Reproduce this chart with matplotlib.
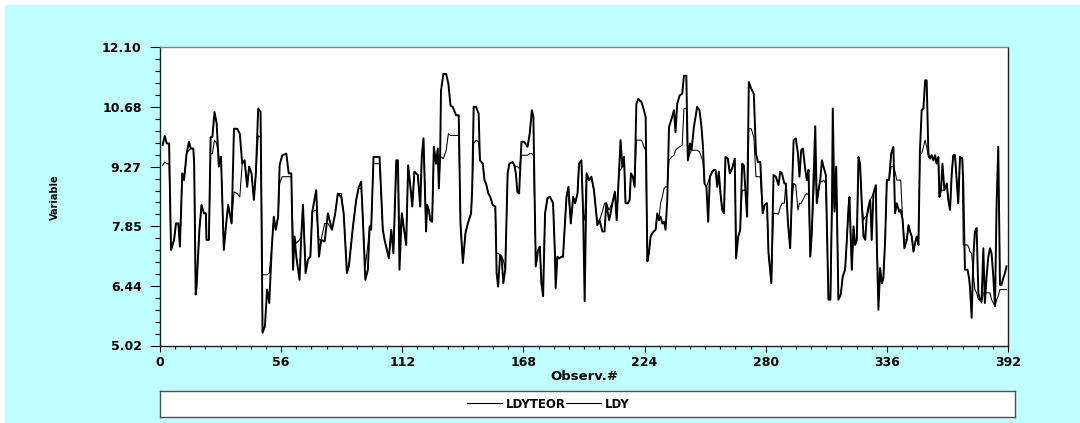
import matplotlib
matplotlib.use('Agg')
import matplotlib.pyplot as plt
import numpy as np
from matplotlib.lines import Line2D
from matplotlib.patches import Rectangle
from matplotlib.ticker import FixedLocator, MultipleLocator, AutoMinorLocator, FormatStrFormatter

obs = [
    1.2, 2.2, 3.1, 4.2, 5.1, 6.5, 7.4, 8.5, 9.2, 10.3,
    11.1, 12.3, 13.4, 14.2, 15.4, 15.8, 16.5, 16.9, 18.2, 19.2,
    20.3, 21.2, 21.5, 22.6, 23.4, 24.2, 25.2, 26.2, 27.2, 28.2,
    28.8, 29.5, 30.6, 31.5, 33.1, 34.2, 35.7, 36.9, 38.0, 39.1,
    40.3, 41.2, 42.3, 43.4, 44.3, 45.4, 46.5, 47.4, 48.5, 49.5,
    50.5, 51.7, 52.6, 53.5, 54.6, 55.3, 56.5, 58.4, 59.5, 60.7,
    61.5, 62.2, 63.0, 64.5, 65.3, 66.1, 67.3, 68.4, 69.5, 70.4,
    72.2, 73.5, 74.5, 76.1, 77.6, 79.5, 81.0, 82.2, 83.8, 84.9,
    86.4, 87.3, 89.2, 90.7, 91.9, 93.0, 93.8, 94.9, 96.1, 96.9,
    97.6, 98.7, 101.5, 103.0, 103.8, 105.8, 106.9, 107.9, 109.2, 110.0,
    110.7, 111.8, 112.6, 113.8, 114.7, 115.6, 116.6, 117.6, 119.2, 120.3,
    121.0, 121.8, 123.0, 123.5, 124.3, 124.9, 125.8, 126.6, 127.6, 128.4,
    128.9, 129.5, 129.9, 131.0, 132.3, 133.3, 134.3, 135.3, 136.9, 138.1,
    138.9, 140.0, 141.2, 142.3, 143.8, 144.3, 145.0, 146.1, 147.3, 147.9,
    149.2, 150.0, 150.7, 151.8, 152.7, 153.8, 155.0, 155.6, 156.3, 157.2,
    157.9, 158.7, 159.6, 160.7, 161.5, 163.0, 163.8, 164.5, 165.2, 166.0,
    167.1, 168.3, 169.9, 170.9, 171.9, 172.6, 173.7, 174.8, 175.6, 176.3,
    177.1, 178.0, 179.1, 180.3, 181.7, 182.5, 182.9, 183.7, 184.5, 185.6,
    186.3, 187.1, 187.9, 188.8, 189.9, 191.0, 191.9, 193.0, 193.7, 194.8,
    195.6, 196.3, 197.2, 198.3, 199.4, 200.6, 202.2, 203.2, 204.5, 205.5,
    206.3, 207.6, 208.3, 209.1, 210.3, 211.1, 212.2, 212.9, 213.7, 214.5,
    215.2, 216.3, 217.1, 217.7, 218.6, 219.4, 220.2, 221.1, 222.6, 223.7,
    224.5, 225.3, 226.0, 226.8, 227.6, 228.3, 229.1, 229.9, 230.6, 231.4,
    232.2, 233.0, 233.7, 234.5, 235.3, 236.5, 237.6, 238.3, 239.1, 240.2,
    241.4, 242.2, 243.3, 244.0, 245.0, 245.7, 246.8, 248.3, 249.4, 250.3,
    251.0, 251.7, 252.6, 253.4, 254.2, 255.3, 256.0, 256.8, 257.6, 258.3,
    259.1, 259.9, 260.7, 261.4, 262.5, 263.4, 264.5, 265.7, 266.3, 267.3,
    268.2, 269.1, 269.9, 270.6, 271.4, 272.2, 273.3, 274.5, 275.5, 276.4,
    277.5, 278.6, 279.5, 280.6, 281.3, 282.6, 283.6, 284.7, 285.9, 286.7,
    287.5, 288.6, 289.3, 290.3, 291.3, 292.1, 292.9, 293.9, 294.9, 295.6,
    296.4, 297.2, 298.3, 299.0, 299.8, 300.6, 301.3, 302.9, 303.6, 304.4,
    305.2, 306.0, 306.7, 307.8, 309.0, 309.9, 310.6, 311.0, 311.8, 312.6,
    313.6, 314.7, 315.6, 316.7, 317.5, 318.3, 318.7, 319.8, 320.6, 321.3,
    322.1, 322.9, 323.6, 324.4, 325.2, 326.0, 326.7, 327.5, 328.3, 329.0,
    329.8, 330.9, 331.3, 332.1, 332.9, 333.7, 334.4, 335.2, 336.0, 337.0,
    338.0, 339.0, 339.8, 340.6, 341.7, 342.4, 343.3, 344.1, 345.2, 346.0,
    346.7, 347.5, 348.3, 349.0, 349.8, 350.6, 351.3, 352.1, 352.9, 353.7,
    354.4, 355.2, 356.0, 356.7, 357.5, 358.3, 359.0, 359.8, 360.3, 361.0,
    361.7, 362.6, 363.7, 364.4, 365.2, 366.0, 366.7, 367.5, 368.3, 369.0,
    369.8, 370.9, 371.3, 372.1, 373.3, 374.0, 374.4, 375.2, 376.0, 376.7,
    377.5, 378.3, 379.0, 379.8, 380.6, 381.3, 382.1, 382.9, 383.7, 384.4,
    385.2, 386.0, 386.7, 387.5, 388.3, 389.0, 389.8, 390.6, 391.3,
]

ldy = [
    9.78, 10.00, 9.82, 9.82, 7.29, 7.53, 7.92, 7.92, 7.37, 9.11,
    8.95, 9.58, 9.86, 9.70, 9.70, 9.34, 6.23, 6.42, 7.77, 8.36,
    8.16, 8.16, 7.53, 7.53, 9.97, 9.97, 10.57, 10.29, 9.27, 9.50,
    8.48, 7.29, 7.92, 8.36, 7.92, 10.17, 10.17, 10.05, 9.34, 9.42,
    8.79, 9.27, 9.11, 8.48, 9.11, 10.65, 10.57, 5.32, 5.48, 6.35,
    6.03, 7.37, 8.08, 7.77, 8.08, 9.30, 9.54, 9.58, 9.11, 9.11,
    6.82, 7.61, 7.13, 6.58, 7.61, 8.36, 6.74, 7.06, 7.13, 8.20,
    8.71, 7.13, 7.53, 7.49, 8.16, 7.77, 8.16, 8.63, 8.55, 8.16,
    6.74, 6.90, 7.85, 8.48, 8.79, 8.91, 8.00, 6.58, 6.82, 7.85,
    7.77, 9.50, 9.50, 7.77, 7.53, 7.09, 7.77, 7.21, 9.42, 9.42,
    6.82, 8.16, 7.85, 7.41, 9.30, 8.87, 8.32, 9.15, 9.07, 8.32,
    9.50, 9.94, 7.73, 8.36, 8.24, 8.00, 7.96, 9.74, 9.34, 9.70,
    8.75, 9.54, 11.08, 11.47, 11.47, 11.24, 10.72, 10.69, 10.49, 10.49,
    7.92, 6.98, 7.69, 7.92, 8.16, 8.71, 10.69, 10.69, 10.53, 9.42,
    9.34, 8.95, 8.87, 8.63, 8.55, 8.36, 8.32, 6.74, 6.42, 7.17,
    7.13, 6.50, 6.82, 9.11, 9.34, 9.38, 9.30, 9.11, 8.67, 8.63,
    9.86, 9.86, 9.74, 10.05, 10.61, 10.45, 6.90, 7.29, 7.37, 6.50,
    6.19, 8.16, 8.52, 8.55, 8.40, 7.29, 6.38, 7.13, 7.09, 7.13,
    7.13, 7.85, 8.55, 8.79, 7.92, 8.55, 8.40, 8.63, 9.34, 9.42,
    8.16, 6.07, 9.11, 8.95, 9.03, 8.71, 7.88, 8.00, 7.73, 7.73,
    8.40, 8.00, 8.16, 8.40, 8.67, 8.00, 9.19, 9.90, 9.27, 9.50,
    8.40, 8.40, 8.48, 9.11, 9.03, 8.79, 10.76, 10.88, 10.80, 10.61,
    10.45, 7.02, 7.21, 7.61, 7.69, 7.73, 7.77, 8.16, 8.00, 8.08,
    7.92, 7.96, 7.77, 8.48, 10.21, 10.41, 10.61, 10.09, 10.76, 10.96,
    11.00, 11.43, 11.43, 9.42, 9.82, 9.66, 10.21, 10.69, 10.61, 10.21,
    9.74, 8.87, 8.79, 7.96, 9.03, 9.15, 9.19, 9.19, 8.79, 9.15,
    8.63, 8.24, 8.16, 9.50, 9.46, 9.11, 9.23, 9.46, 7.09, 7.61,
    7.77, 9.34, 9.30, 8.71, 8.08, 11.28, 11.12, 11.00, 9.58, 9.38,
    9.38, 8.16, 8.36, 8.40, 7.21, 6.50, 9.07, 9.03, 8.83, 9.15,
    9.11, 8.87, 8.87, 7.92, 7.33, 8.63, 9.90, 9.94, 9.58, 9.03,
    9.66, 9.70, 9.19, 8.95, 9.19, 7.13, 7.69, 10.23, 8.40, 8.71,
    8.95, 9.42, 9.27, 9.07, 6.11, 6.11, 8.32, 10.65, 8.20, 9.27,
    6.11, 6.23, 6.66, 6.82, 7.53, 8.32, 8.55, 6.82, 7.85, 7.41,
    7.53, 9.50, 9.34, 8.40, 7.61, 7.53, 8.08, 8.32, 8.48, 7.53,
    8.63, 8.83, 7.53, 5.87, 6.86, 6.50, 6.62, 7.53, 8.95, 8.95,
    9.58, 9.74, 8.16, 8.40, 8.20, 8.24, 8.00, 7.33, 7.53, 7.88,
    7.73, 7.61, 7.25, 7.45, 7.61, 7.41, 9.66, 10.61, 10.65, 11.32,
    11.32, 9.58, 9.46, 9.54, 9.42, 9.54, 9.34, 9.50, 8.55, 8.71,
    9.34, 8.71, 8.87, 8.48, 8.24, 9.11, 9.54, 9.54, 8.95, 8.40,
    9.50, 9.46, 8.87, 6.82, 6.82, 6.62, 6.42, 5.68, 7.13, 7.73,
    7.81, 6.27, 6.11, 6.11, 7.33, 6.03, 6.66, 7.13, 7.33, 7.21,
    6.66, 5.95, 8.32, 9.74, 6.46, 6.46, 6.62, 6.74, 6.90,
]

ldyteor = [
    9.30, 9.38, 9.34, 9.34, 7.29, 7.53, 7.92, 7.92, 7.37, 9.11,
    8.95, 9.58, 9.66, 9.70, 9.70, 9.34, 6.42, 6.42, 7.77, 8.36,
    8.16, 8.16, 7.53, 7.53, 9.58, 9.58, 9.90, 9.82, 9.50, 9.50,
    8.48, 7.29, 7.92, 8.36, 7.92, 8.67, 8.63, 8.55, 9.34, 9.42,
    8.79, 9.27, 9.11, 8.48, 9.11, 10.00, 9.97, 6.70, 6.70, 6.70,
    6.74, 7.37, 8.08, 7.77, 8.08, 8.87, 9.03, 9.03, 9.03, 9.03,
    7.61, 7.61, 7.45, 7.53, 7.61, 8.36, 6.90, 7.06, 7.13, 8.20,
    8.24, 7.53, 7.53, 7.92, 7.92, 7.77, 8.16, 8.63, 8.63, 8.16,
    6.86, 6.90, 7.85, 8.48, 8.75, 8.75, 8.00, 6.90, 7.41, 7.85,
    7.77, 9.34, 9.34, 7.77, 7.53, 7.13, 7.77, 7.21, 9.11, 9.27,
    7.61, 8.16, 7.85, 7.45, 9.30, 8.87, 8.32, 9.15, 9.07, 8.32,
    9.50, 9.94, 7.73, 8.36, 8.24, 8.00, 7.96, 9.74, 9.34, 9.70,
    8.75, 9.54, 9.50, 9.46, 9.66, 10.05, 10.01, 10.01, 10.01, 10.01,
    7.92, 6.98, 7.69, 7.92, 8.16, 8.71, 9.82, 9.90, 9.86, 9.42,
    9.34, 8.95, 8.87, 8.63, 8.55, 8.36, 8.32, 7.21, 7.21, 7.17,
    7.13, 7.05, 6.82, 9.11, 9.34, 9.38, 9.30, 9.27, 9.27, 9.23,
    9.54, 9.54, 9.54, 9.58, 9.58, 9.54, 7.20, 7.29, 7.37, 6.50,
    6.50, 8.16, 8.52, 8.55, 8.40, 7.29, 6.70, 7.13, 7.09, 7.13,
    7.13, 7.85, 8.55, 8.60, 7.92, 8.55, 8.40, 8.63, 9.34, 9.42,
    8.16, 8.00, 9.11, 8.95, 9.03, 8.71, 7.88, 8.00, 8.20, 8.40,
    8.40, 8.24, 8.32, 8.40, 8.67, 8.00, 9.19, 9.19, 9.27, 9.50,
    8.40, 8.40, 8.48, 9.11, 9.03, 8.79, 9.90, 9.90, 9.90, 9.74,
    9.66, 7.02, 7.21, 7.61, 7.69, 7.73, 7.77, 8.16, 8.00, 8.40,
    8.55, 8.75, 8.79, 8.79, 9.42, 9.50, 9.54, 9.66, 9.70, 9.74,
    9.78, 10.65, 10.65, 9.42, 9.58, 9.66, 9.66, 9.66, 9.62, 9.50,
    9.40, 8.87, 8.79, 8.90, 9.03, 9.15, 9.19, 9.19, 8.79, 9.15,
    8.63, 8.24, 8.16, 9.50, 9.46, 9.11, 9.23, 9.46, 7.41, 7.61,
    7.77, 8.71, 8.71, 8.71, 8.08, 10.17, 10.17, 9.97, 9.03, 9.03,
    9.03, 8.16, 8.36, 8.40, 7.21, 6.50, 8.16, 8.16, 8.14, 8.30,
    8.40, 8.40, 8.87, 7.92, 7.33, 8.40, 8.87, 8.83, 8.24, 8.40,
    8.40, 8.48, 8.60, 8.63, 8.60, 7.13, 7.69, 9.40, 8.40, 8.71,
    8.95, 8.90, 8.95, 8.87, 6.11, 6.11, 8.32, 8.90, 8.20, 9.27,
    6.11, 6.23, 6.66, 6.82, 7.53, 8.32, 8.55, 6.82, 7.85, 7.41,
    7.53, 9.50, 9.34, 8.40, 8.00, 8.08, 8.08, 8.24, 8.48, 8.55,
    8.63, 8.79, 7.85, 6.11, 6.86, 6.50, 6.62, 7.53, 8.95, 8.95,
    9.27, 9.27, 9.15, 8.95, 8.95, 8.95, 8.00, 7.53, 7.53, 7.88,
    7.73, 7.61, 7.25, 7.45, 7.61, 7.41, 9.58, 9.58, 9.74, 9.90,
    9.74, 9.50, 9.46, 9.54, 9.42, 9.54, 9.34, 9.50, 8.55, 8.71,
    8.71, 8.71, 8.87, 8.48, 8.24, 9.11, 9.54, 9.54, 8.95, 8.40,
    9.50, 9.46, 7.41, 7.41, 7.41, 7.33, 7.25, 7.21, 6.70, 6.35,
    6.27, 6.11, 6.11, 6.03, 6.27, 6.27, 6.27, 6.27, 6.27, 6.11,
    6.03, 5.95, 6.10, 6.20, 6.35, 6.35, 6.35, 6.35, 6.35,
]

series_labels = ['LDYTEOR', 'LDY']
y_min, y_max = 5.02, 12.10
x_min, x_max = 0, 392

W, H = 1080, 423
BG = '#C0FFFF'
FONT = dict(family='DejaVu Sans', weight='bold')


def fx(px):
    return px / W


def fy(py):
    return (H - py) / H


fig = plt.figure(figsize=(W / 100, H / 100), dpi=100, facecolor='white')
# cyan backdrop, leaving a thin white margin top and left
fig.patches.append(Rectangle((fx(5), 0), 1, fy(5), transform=fig.transFigure,
                             facecolor=BG, edgecolor='none', zorder=-10))

ax = fig.add_axes([fx(160), fy(345.5), fx(1008 - 160), (345.5 - 47.5) / H])
ax.set_facecolor('white')

ax.plot(obs, ldyteor, color='black', linewidth=0.75, zorder=2)
ax.plot(obs, ldy, color='black', linewidth=1.4, zorder=3)

ax.set_xlim(x_min, x_max)
ax.set_ylim(y_min, y_max)

ax.xaxis.set_major_locator(MultipleLocator(56))
ax.xaxis.set_minor_locator(AutoMinorLocator(8))
ax.yaxis.set_major_locator(FixedLocator(np.linspace(y_min, y_max, 6)))
ax.yaxis.set_minor_locator(FixedLocator(np.linspace(y_min, y_max, 26)))
ax.yaxis.set_major_formatter(FormatStrFormatter('%.2f'))

ax.tick_params(axis='y', which='major', direction='out', length=7.2, width=0.8,
               pad=6, labelsize=9, colors='black')
ax.tick_params(axis='y', which='minor', direction='out', length=3.6, width=0.8)
ax.tick_params(axis='x', which='major', direction='out', length=4.3, width=0.8,
               pad=3.5, labelsize=9)
ax.tick_params(axis='x', which='minor', direction='out', length=2.2, width=0.8)
for lab in ax.get_xticklabels() + ax.get_yticklabels():
    lab.set_fontweight('bold')
    lab.set_family('DejaVu Sans')

for side in ['left', 'bottom', 'right']:
    ax.spines[side].set_color('#202020')
    ax.spines[side].set_linewidth(1.0)
ax.spines['top'].set_color('#808080')
ax.spines['top'].set_linewidth(1.0)

fig.text(fx(584), fy(376), 'Observ.#', ha='center', va='center', fontsize=9.5, **FONT)
fig.text(fx(55), fy(197), 'Variable', ha='center', va='center', rotation=90,
         fontsize=7, **FONT)

# legend box
lax = fig.add_axes([fx(160), fy(417.3), fx(1015 - 160), (417.3 - 390.7) / H])
lax.set_facecolor('white')
lax.set_xticks([])
lax.set_yticks([])
for side in lax.spines:
    lax.spines[side].set_color('#505050')
    lax.spines[side].set_linewidth(1.0)
handles = [Line2D([], [], color='black', linewidth=0.8) for _ in series_labels]
lax.legend(handles, series_labels, ncol=2, loc='center',
           bbox_to_anchor=((548 - 160) / 855, 0.5), frameon=False,
           handlelength=3.0, handletextpad=0.3, columnspacing=0.0,
           prop=dict(family='DejaVu Sans', weight='bold', size=8.5))

fig.savefig('out.png', dpi=100, facecolor=fig.get_facecolor())
